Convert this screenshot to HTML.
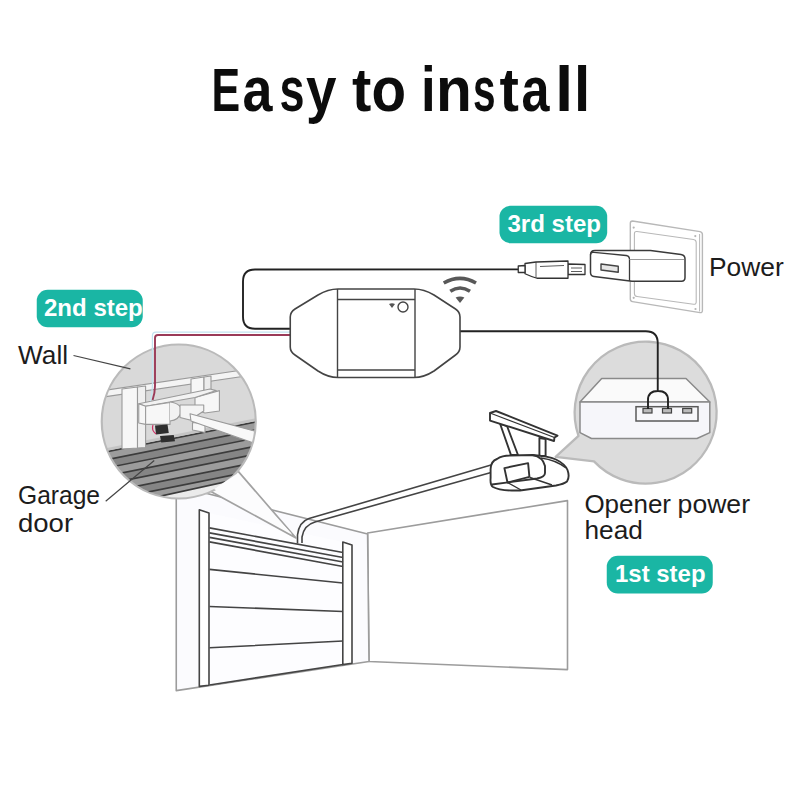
<!DOCTYPE html>
<html><head><meta charset="utf-8">
<style>
html,body{margin:0;padding:0;background:#fff;}
body{width:800px;height:800px;overflow:hidden;position:relative;}
svg{position:absolute;left:0;top:0;display:block;}
text{font-family:"Liberation Sans",sans-serif;}
</style></head><body>
<svg width="800" height="800" viewBox="0 0 800 800">
<defs>
<clipPath id="cl"><circle cx="178.75" cy="421.5" r="77"/></clipPath>
</defs>
<rect width="800" height="800" fill="#fff"/>

<!-- Title -->

<!-- ROOM -->
<g fill="none" stroke="#9c9c9c" stroke-width="1.6" stroke-linejoin="round">
  <!-- right wall -->
  <path d="M367.6 533 L567.5 500.6 L567.5 669.6 L369 661.5 Z" fill="#fff"/>
  <!-- back wall -->
  <path d="M176.25 485.8 L367.6 534 L369 661.5 L176.25 690.6 Z" fill="#fbfbfe"/>
</g>

<!-- garage door -->
<g stroke="#444" stroke-width="1.6" fill="#fff" stroke-linejoin="round">
  <path d="M209 513 L343 542 L343 664.5 L209 685.5 Z" fill="#fdfdff" stroke="none"/>
  <path d="M199.3 509.7 L209 513 L209 685.2 L199.3 686.4 Z"/>
  <path d="M342.8 542 L352 545 L352 663.3 L342.8 664.6 Z"/>
  <path d="M209.5 527.9 L343 552.5 M209.5 532.85 L343 557.5 M209.5 537.35 L343 562 M209.5 541.85 L343 566.5 M209.5 569.4 L343 583 M209.5 606.5 L343 611.5 M209.5 647.8 L343 641 M209.5 685 L343 664.5" fill="none"/>
</g>

<!-- rail -->
<g stroke="#444" stroke-width="1.6" fill="none" stroke-linejoin="round">
  <path d="M297.5 543.5 L297.5 535 Q299 522 309 518.6 L491 465"/>
  <path d="M302 543 L302 537 Q304 525 315 522 L491 472.5"/>
</g>

<!-- opener head -->
<g stroke="#333" stroke-width="1.9" fill="#fff" stroke-linejoin="round">
  <path d="M500 423.5 L507 426 L518 455 L511 455 Z"/>
  <path d="M539.4 438 L545.6 439 L545.6 456 L539.4 456 Z"/>
  <path d="M490 413 L496 411 L557.5 435.6 L554.5 437.5 L554 441 L490 420.6 Z"/>
  <path d="M490 413 L554.5 437.5" fill="none" stroke-width="1.2"/>
  <path d="M490.6 469 Q491 461 497 459 Q502 455.5 510 455.5 L532.5 455 Q548 456 556 459.5 Q565 464 567.5 470 Q570 477 567 481.5 Q564 484 556 485.5 L520 490.5 Q500 491 493 487 Q490 485 490.6 478 Z"/>
  <path d="M532.5 455 Q543 457 545 466 L545 473 Q545 477 537 478.5 L492 484.5" fill="none"/>
  <path d="M504.4 468.1 L528.1 463.1 L529.4 476.9 L507.5 482.5 Z" fill="none"/>
  <path d="M507.5 482.5 L521 490 M530 477.5 L552 485 M541 458 Q556 460 566 468" fill="none" stroke-width="1.4"/>
</g>

<!-- left callout tail -->
<path d="M237.8 470.9 L296 538 L210.9 491.5 Z" fill="#fcfcfd" stroke="#a2a2a2" stroke-width="1.7" stroke-linejoin="round"/>
<!-- left circle -->
<circle cx="178.75" cy="421.5" r="77" fill="#d9d9d9"/>
<g clip-path="url(#cl)">
  <!-- stripes -->
  <path d="M95 454.0 L262 420.6 L262 520 L95 520 Z" fill="#8a8a8a"/>
  <path d="M95 454.0 L262 420.6 L262 428.7 L95 462.1 Z" fill="#9c9c9c"/>
  <path d="M95 462.1 L262 428.7 L262 436.8 L95 470.2 Z" fill="#858585"/>
  <path d="M95 470.2 L262 436.8 L262 444.9 L95 478.3 Z" fill="#9c9c9c"/>
  <path d="M95 478.3 L262 444.9 L262 453.0 L95 486.4 Z" fill="#858585"/>
  <path d="M95 486.4 L262 453.0 L262 461.1 L95 494.5 Z" fill="#9c9c9c"/>
  <path d="M95 494.5 L262 461.1 L262 469.2 L95 502.6 Z" fill="#858585"/>
  <path d="M95 502.6 L262 469.2 L262 477.3 L95 510.7 Z" fill="#9c9c9c"/>
  <path d="M95 510.7 L262 477.3 L262 485.4 L95 518.8 Z" fill="#858585"/>
  <g stroke="#3c3c3c" stroke-width="1.7" fill="none">
    <path d="M95 454.0 L262 420.6"/>
    <path d="M95 462.1 L262 428.7"/>
    <path d="M95 470.2 L262 436.8"/>
    <path d="M95 478.3 L262 444.9"/>
    <path d="M95 486.4 L262 453.0"/>
    <path d="M95 494.5 L262 461.1"/>
    <path d="M95 502.6 L262 469.2"/>
    <path d="M95 510.7 L262 477.3"/>
    <path d="M95 518.8 L262 485.4"/>
  </g>
  <path d="M95 450.5 L262 417.1 L262 419.8 L95 453.2 Z" fill="#c4c4c4"/>
  <path d="M95 510.6 L262 473.7 L262 530 L95 530 Z" fill="#ebebeb" stroke="#3c3c3c" stroke-width="1.7"/>
  <!-- top rail -->
  <path d="M100 391 L256 368 L256 374.5 L100 397.5 Z" fill="#f4f4f4" stroke="#9a9a9a" stroke-width="1.1"/>
  <!-- posts & box -->
  <g fill="#f7f7f7" stroke="#9a9a9a" stroke-width="1.1" stroke-linejoin="round">
    <path d="M122 389 L137.5 387 L137.5 448 L122 449 Z"/>
    <path d="M137.5 387 L145.6 386 L145.6 447.5 L137.5 448 Z" fill="#efefef"/>
    <path d="M191 379 L204 377 L204 393 L191 394 Z"/>
    <path d="M204 377 L211 376 L211 392 L204 393 Z" fill="#ececec"/>
    <!-- right block -->
    <path d="M195 397.5 L219.4 390.6 L219.4 411 L205 413 L195 410 Z"/>
    <!-- beam top face -->
    <path d="M138.75 403.75 L145.6 406.25 L195 397.5 L216.25 390.6 L210 389 Z" fill="#f2f2f2"/>
    <!-- beam front face -->
    <path d="M138.75 403.75 L145.6 406.25 L170 402.5 L170 424.4 L145.6 424.4 L138.75 423 Z"/>
    <path d="M145.6 406.25 L145.6 424.4" fill="none"/>
    <path d="M170 402 Q183 404 181 412.5 Q179 420 170 421" fill="#f2f2f2"/>
    <!-- rod end -->
    <path d="M180 405 L203.75 405 L203.75 411 L190 420 L180 417.5 Z" fill="#f4f4f4"/>
    <path d="M192.5 422.5 L205 423.75 L205 432.5 L192.5 430 Z"/>
    <!-- rod -->
    <path d="M190 413.75 L262 433 L262 446 L191 421 Z" fill="#f8f8f8"/>
  </g>
  <g fill="#2e2e2e">
    <path d="M155 425.6 L167.5 424.4 L168.75 433 L156 434.4 Z"/>
    <path d="M160 436 L173.75 435 L175 441.25 L161.25 442.5 Z"/>
  </g>
  <path d="M153 425 Q151 430 156 434" fill="none" stroke="#c36" stroke-width="1.2"/>
</g>
<circle cx="178.75" cy="421.5" r="77" fill="none" stroke="#bababa" stroke-width="2.2"/>
<path d="M235.8 474.5 L292 534 L214 489 Z" fill="#fcfcfd"/>

<!-- wires -->
<g fill="none" stroke-linejoin="round">
  <path d="M290 328.75 L255 328.75 Q243 328.75 243 316.75 L243 281.5 Q243 269.5 255 269.5 L518.25 269.4" stroke="#222" stroke-width="1.9"/>
  <path d="M290 332.2 L156 332.2 Q152.4 332.2 152.4 336 L152.4 386 Q152.4 393 150.3 401" stroke="#c2e2f0" stroke-width="1.2"/>
  <path d="M290 335 L158 335 Q155 335 155 338 L155 386 Q155 393 152.6 400" stroke="#9a3a58" stroke-width="1.9"/>
  </g>

<!-- Right callout -->
<path d="M578.5 435.8 L555.6 456.9 L594 461.4 A71 71 0 1 0 578.5 435.8 Z" fill="#dcdcdc" stroke="#bababa" stroke-width="2.3" stroke-linejoin="round"/>
<g stroke="#8a8a8a" stroke-width="1.5" stroke-linejoin="round">
  <path d="M580 402 L601.7 378.5 L686 378.5 L709.8 402 Z" fill="#fafafa"/>
  <path d="M580 402 L709.8 402 L709.8 432.6 L697 438.5 L591.5 438.5 L580 432.6 Z" fill="#f6f6fa"/>
</g>
<rect x="636" y="406.7" width="62" height="14.3" fill="#f7f7fa" stroke="#5a5a5a" stroke-width="1.5"/>
<g fill="#bbb" stroke="#444" stroke-width="1.2">
  <rect x="643" y="408.5" width="9" height="4.5"/>
  <rect x="662.5" y="408.5" width="9" height="4.5"/>
  <rect x="682.7" y="408.5" width="9" height="4.5"/>
</g>
<path d="M460 331.2 L645.75 331.2 Q657.75 331.2 657.75 343.2 L657.75 391 M648 409 L648 400 Q648 391 658 391 Q668 391 668 400 L668 409" fill="none" stroke="#222" stroke-width="1.9" stroke-linejoin="round"/>

<!-- Device -->
<g stroke="#444" stroke-width="1.6" fill="#fff" stroke-linejoin="round">
  <path d="M290.25 347 L290.25 317 Q290.25 312 295 309 L318 295 Q328 289 338 289 L414 289 Q424 289 434 295 L455.5 309 Q460 312 460 317 L460 347 Q460 352 455.5 355 L434 371 Q424 377.5 414 377.5 L338 377.5 Q328 377.5 318 371 L295 355 Q290.25 352 290.25 347 Z"/>
  <path d="M337.5 289 L337.5 377.5 M415 289 L415 377.5 M337.5 299.5 L415 299.5 M337.5 370 L415 370" fill="none" stroke-width="1.4"/>
  <circle cx="403" cy="307" r="5" stroke-width="1.4"/>
</g>
<path d="M389 304 Q392 302.5 395 304 L392 308 Z" fill="#555"/>

<!-- wifi -->
<g fill="none" stroke="#585858" stroke-width="3.6">
  <path d="M443.75 283 Q460 273.8 476 283"/>
  <path d="M450.3 291.25 Q460 284.75 470 291.25"/>
</g>
<path d="M455.6 297.5 Q460 295.5 464.4 297.5 L460 303 Z" fill="#585858"/>

<!-- wall plate -->
<g fill="#fff" stroke="#b8b8b8" stroke-width="1.4" stroke-linejoin="round">
  <path d="M632.5 221 L700 231.6 Q702.4 232 702.4 234.5 L702.4 310.5 Q702.4 313 700 312.6 L632.5 301.6 Q630.3 301.3 630.3 299 L630.3 223.3 Q630.3 221 632.5 221 Z"/>
  <path d="M699.6 234 L699.6 311.5" fill="none" stroke-width="1"/>
  <path d="M637 231.5 L693.5 239.5 Q696.2 239.9 696.2 242.5 L696.2 302 Q696.2 304.6 693.5 304.2 L637 296.5 Q634.4 296.1 634.4 293.5 L634.4 234 Q634.4 231.2 637 231.5 Z" fill="none" stroke-width="1.1"/>
</g>
<g fill="#b5b5b5">
  <circle cx="633.7" cy="227.6" r="1.1"/><circle cx="695.3" cy="236.1" r="1.1"/>
  <circle cx="633.7" cy="297.8" r="1.1"/><circle cx="695.5" cy="309" r="1.1"/>
</g>

<!-- charger -->
<g stroke="#3a3a3a" stroke-width="1.5" fill="#fff" stroke-linejoin="round">
  <path d="M595 250.5 L650.5 250.5 L681 254.5 Q685 255 685 259 L685 277.5 Q685 281.2 681.5 281.2 L632 281.2 L594 276.5 Q590.5 276 590.5 272.5 L590.5 255 Q590.5 250.5 595 250.5 Z"/>
  <path d="M590.5 255 Q590.5 252 594 252.3 L626 255.5 Q629.5 255.8 629.5 259.5 L629.5 281" fill="none" stroke-width="1.3"/>
  <path d="M629.5 259.5 L684 259.5" fill="none" stroke="#9a9a9a" stroke-width="1"/>
  <path d="M601 264 L618.25 266.25 L618.25 272.25 L601 270 Z" fill="#e6e6e6" stroke="#444" stroke-width="1.4"/>
</g>

<!-- USB plug -->
<g stroke="#333" stroke-width="1.3" fill="#fff" stroke-linejoin="round">
  <path d="M567.75 264 L585 264.5 L585 274.5 L567.75 274.5 Z"/>
  <path d="M525 263.5 L536 262 L568 261 L568 278.25 L537 278.25 Q531 276.5 525 273.75 Z"/>
  <path d="M518.25 266 L525 265.5 L525 272.5 L518.25 272.5 Z"/>
  <path d="M536 262 L536 278 M540 266.5 L564 265.5 M571 268 L582 268 M571 271.5 L582 271.5" fill="none" stroke-width="0.8"/>
</g>

<!-- leader lines -->
<g stroke="#444" stroke-width="1.2" fill="none">
  <path d="M73.5 355.5 L130.4 368.8"/>
  <path d="M105.7 501.2 L154.25 460.5"/>
</g>

<!--TEXT-->
<g fill="#1ab6a4">
  <rect x="36.75" y="289.8" width="106" height="37.5" rx="11"/>
  <rect x="499.5" y="205.7" width="107.7" height="37.5" rx="11"/>
  <rect x="606.75" y="555.7" width="106" height="37.8" rx="11"/>
</g>
<text x="211.50" y="111" font-size="61" font-weight="bold" fill="#0c0c0c" textLength="28.63" lengthAdjust="spacingAndGlyphs">E</text>
<text x="242.50" y="111" font-size="61" font-weight="bold" fill="#0c0c0c" textLength="29.95" lengthAdjust="spacingAndGlyphs" transform="translate(0 111) scale(1 1.04) translate(0 -111)">a</text>
<text x="279.50" y="111" font-size="61" font-weight="bold" fill="#0c0c0c" textLength="24.98" lengthAdjust="spacingAndGlyphs" transform="translate(0 111) scale(1 1.04) translate(0 -111)">s</text>
<text x="306.00" y="111" font-size="61" font-weight="bold" fill="#0c0c0c" textLength="30.47" lengthAdjust="spacingAndGlyphs" transform="translate(0 111) scale(1 1.04) translate(0 -111)">y</text>
<text x="352.00" y="111" font-size="61" font-weight="bold" fill="#0c0c0c" textLength="19.31" lengthAdjust="spacingAndGlyphs">t</text>
<text x="371.50" y="111" font-size="61" font-weight="bold" fill="#0c0c0c" textLength="34.58" lengthAdjust="spacingAndGlyphs" transform="translate(0 111) scale(1 1.04) translate(0 -111)">o</text>
<text x="421.00" y="111" font-size="61" font-weight="bold" fill="#0c0c0c" textLength="14.67" lengthAdjust="spacingAndGlyphs" transform="translate(0 111) scale(1 1.02) translate(0 -111)">i</text>
<text x="436.00" y="111" font-size="61" font-weight="bold" fill="#0c0c0c" textLength="35.84" lengthAdjust="spacingAndGlyphs" transform="translate(0 111) scale(1 1.04) translate(0 -111)">n</text>
<text x="473.00" y="111" font-size="61" font-weight="bold" fill="#0c0c0c" textLength="22.55" lengthAdjust="spacingAndGlyphs" transform="translate(0 111) scale(1 1.04) translate(0 -111)">s</text>
<text x="499.50" y="111" font-size="61" font-weight="bold" fill="#0c0c0c" textLength="19.41" lengthAdjust="spacingAndGlyphs">t</text>
<text x="521.50" y="111" font-size="61" font-weight="bold" fill="#0c0c0c" textLength="27.95" lengthAdjust="spacingAndGlyphs" transform="translate(0 111) scale(1 1.04) translate(0 -111)">a</text>
<text x="555.00" y="111" font-size="61" font-weight="bold" fill="#0c0c0c" textLength="18.28" lengthAdjust="spacingAndGlyphs" transform="translate(0 111) scale(1 1.02) translate(0 -111)">l</text>
<text x="574.00" y="111" font-size="61" font-weight="bold" fill="#0c0c0c" textLength="16.24" lengthAdjust="spacingAndGlyphs" transform="translate(0 111) scale(1 1.02) translate(0 -111)">l</text>
<text x="44.00" y="315.75" font-size="24" font-weight="bold" fill="#fff" textLength="98.80" lengthAdjust="spacingAndGlyphs">2nd step</text>
<text x="507.40" y="231.5" font-size="24" font-weight="bold" fill="#fff" textLength="93.65" lengthAdjust="spacingAndGlyphs">3rd step</text>
<text x="615.00" y="581.75" font-size="24" font-weight="bold" fill="#fff" textLength="90.52" lengthAdjust="spacingAndGlyphs">1st step</text>
<text x="18.00" y="364" font-size="26" fill="#1c1c1c" textLength="50.13" lengthAdjust="spacingAndGlyphs">Wall</text>
<text x="18.00" y="504" font-size="26" fill="#1c1c1c" textLength="82.05" lengthAdjust="spacingAndGlyphs">Garage</text>
<text x="18.00" y="532" font-size="26" fill="#1c1c1c" textLength="55.09" lengthAdjust="spacingAndGlyphs">door</text>
<text x="709.00" y="276.25" font-size="26" fill="#1c1c1c" textLength="74.75" lengthAdjust="spacingAndGlyphs">Power</text>
<text x="584.40" y="513" font-size="26" fill="#1c1c1c" textLength="86.61" lengthAdjust="spacingAndGlyphs">Opener</text>
<text x="677.60" y="513" font-size="26" fill="#1c1c1c" textLength="72.43" lengthAdjust="spacingAndGlyphs">power</text>
<text x="584.50" y="539" font-size="26" fill="#1c1c1c" textLength="58.34" lengthAdjust="spacingAndGlyphs">head</text>
<!--/TEXT-->
</svg>
</body></html>
